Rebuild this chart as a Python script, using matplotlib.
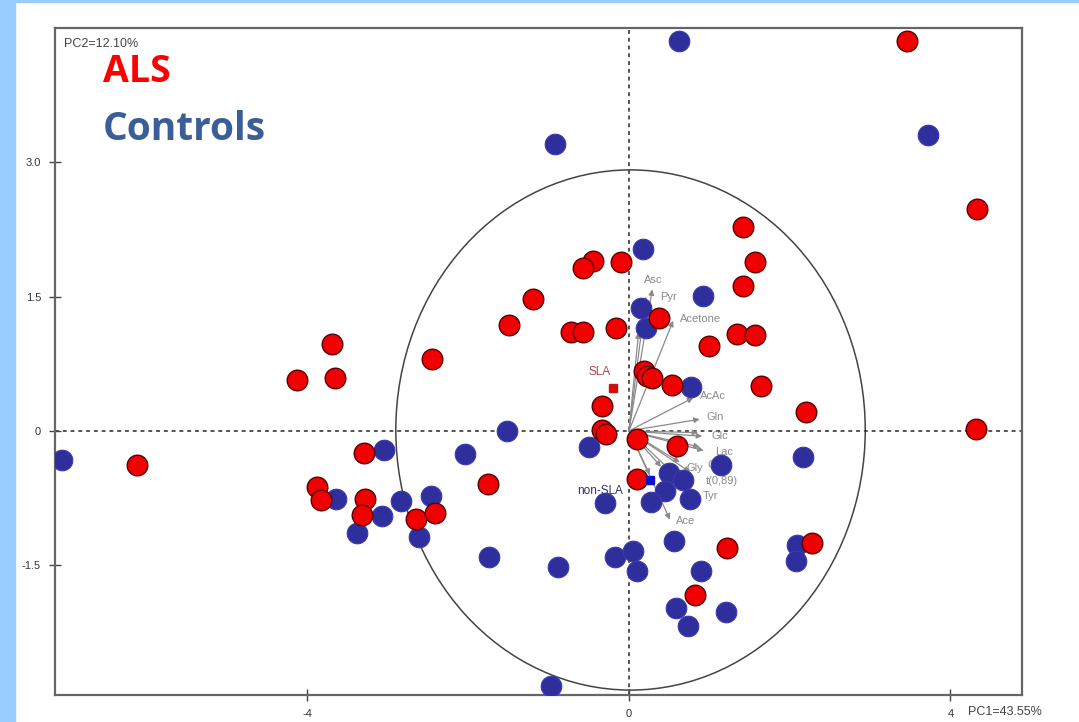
import matplotlib.pyplot as plt
from matplotlib.patches import Ellipse, Rectangle

# PCA score plot (PC1 vs PC2), ALS vs controls
als_x = [3.46, 4.33, 4.32, 1.42, 1.57, 1.42, 1.34, 1.57, 1.00, 1.64, 2.20, 0.37,
         -0.10, -0.45, -0.57, -1.19, -1.49, -0.72, -0.57, -0.16, 0.19, 0.22, 0.29, 0.53,
         -0.34, -0.34, -0.29, 0.10, 0.60, 0.10, -2.45, -3.69, -3.66, -4.13, -6.12, -3.30,
         -3.88, -3.83, -3.28, -3.32, -2.65, -2.41, -1.75, 1.22, 2.28, 0.82]
als_y = [4.35, 2.48, 0.02, 2.28, 1.89, 1.62, 1.08, 1.07, 0.95, 0.50, 0.21, 1.26,
         1.89, 1.90, 1.82, 1.47, 1.18, 1.11, 1.11, 1.15, 0.67, 0.61, 0.59, 0.51,
         0.28, 0.01, -0.04, -0.09, -0.17, -0.54, 0.80, 0.97, 0.59, 0.57, -0.38, -0.25,
         -0.63, -0.77, -0.76, -0.94, -0.98, -0.92, -0.59, -1.31, -1.25, -1.83]

ctrl_x = [0.62, 3.72, -0.92, 0.17, 0.92, 0.15, 0.21, 0.77, -1.52, -0.50, -2.04, -3.05,
          -7.05, 2.16, 1.14, 0.50, 0.67, 0.45, 0.76, 0.27, -0.30, -3.64, -2.84, -2.46,
          -3.07, -3.38, -2.61, 0.56, 2.09, 2.08, -1.74, -0.88, -0.17, 0.05, 0.10, 0.90,
          0.58, 0.73, 1.21, -0.97]
ctrl_y = [4.35, 3.30, 3.20, 2.03, 1.51, 1.37, 1.15, 0.49, 0.00, -0.18, -0.26, -0.21,
          -0.32, -0.29, -0.38, -0.47, -0.55, -0.67, -0.76, -0.79, -0.80, -0.76, -0.78, -0.73,
          -0.95, -1.14, -1.18, -1.23, -1.28, -1.45, -1.41, -1.52, -1.41, -1.34, -1.56, -1.56,
          -1.98, -2.18, -2.02, -2.85]

# loadings (arrow tips) and their labels
load_names = ['Asc', 'Pyr', 'Acetone', 'AcAc', 'Gln', 'Glc', '', 'Lac', 'Cr', 'Gly',
              't(0,89)', 'Tyr', 'Ace', '', '', '']
load_x = [0.29, 0.21, 0.55, 0.80, 0.88, 0.91, 0.86, 0.93, 0.88, 0.63, 0.76, 0.71, 0.51,
          0.26, 0.12, 0.40]
load_y = [1.58, 1.50, 1.23, 0.37, 0.13, -0.06, -0.02, -0.22, -0.18, -0.35, -0.46, -0.61,
          -0.99, -0.49, 1.10, -0.40]
label_dx = [-0.10, 0.18, 0.08, 0.08, 0.08, 0.12, 0, 0.14, 0.10, 0.08, 0.20, 0.21, 0.08,
            0, 0, 0]
label_dy = [0.10, 0.0, 0.02, 0.02, 0.02, 0.0, 0, -0.02, -0.20, -0.06, -0.10, -0.12, -0.02,
            0, 0, 0]

sla_xy = (-0.20, 0.48)
nonsla_xy = (0.26, -0.55)

fig = plt.figure(figsize=(10.79, 7.22), dpi=100)
fig.patches.append(Rectangle((0, 0), 15 / 1079, 1, transform=fig.transFigure,
                             color='#99ccff', zorder=0))
fig.patches.append(Rectangle((0, 1 - 2 / 722), 1, 2 / 722, transform=fig.transFigure,
                             color='#99ccff', zorder=0))

ax = fig.add_axes([55 / 1079, 27 / 722, 967 / 1079, 667 / 722])
ax.set_xlim(-7.14, 4.89)
ax.set_ylim(-2.95, 4.50)

ax.axhline(0, color='#555555', lw=1.4, ls=(0, (2, 2)), zorder=1)
ax.axvline(0, color='#555555', lw=1.4, ls=(0, (2, 2)), zorder=1)
ax.add_patch(Ellipse((0.02, 0.01), 5.84, 5.81, fill=False, ec='#444444', lw=1.1, zorder=1))

for name, lx, ly, dx, dy in zip(load_names, load_x, load_y, label_dx, label_dy):
    ax.annotate('', xy=(lx, ly), xytext=(0, 0),
                arrowprops=dict(arrowstyle='-|>', color='#8a8a8a', lw=0.9,
                                mutation_scale=8, shrinkA=0, shrinkB=0), zorder=2)
    if name:
        ax.text(lx + dx, ly + dy, name, fontsize=8, color='#8a8a8a',
                family='Liberation Sans', va='center', ha='left', zorder=2)

ax.plot(*sla_xy, marker='s', ms=6, color='#d01010', zorder=2)
ax.text(sla_xy[0] - 0.3, sla_xy[1] + 0.18, 'SLA', fontsize=8.5, color='#b04848',
        family='Liberation Sans', ha='left', va='center', zorder=2)
ax.plot(*nonsla_xy, marker='s', ms=6, color='#1010c8', zorder=4)
ax.text(nonsla_xy[0] - 0.9, nonsla_xy[1] - 0.12, 'non-SLA', fontsize=8.5, color='#303070',
        family='Liberation Sans', ha='left', va='center', zorder=2)

ax.scatter(ctrl_x, ctrl_y, s=220, color='#2e2e9c', edgecolors='#3a3ab0', linewidths=0.8,
           zorder=3)
ax.scatter(als_x, als_y, s=220, color='#f00000', edgecolors='#5a0000', linewidths=1.0,
           zorder=3)

ax.set_xticks([-4, 0, 4])
ax.set_yticks([-1.5, 0, 1.5, 3.0])
ax.set_xticklabels(['-4', '0', '4'])
ax.set_yticklabels(['-1.5', '0', '1.5', '3.0'])
ax.tick_params(direction='inout', length=8, width=1, color='#444444', labelsize=8,
               labelcolor='#333333', pad=6)
for lbl in ax.get_xticklabels() + ax.get_yticklabels():
    lbl.set_family('Liberation Sans')
for sp in ax.spines.values():
    sp.set_color('#666666')
    sp.set_linewidth(1.6)

ax.text(0.009, 0.985, 'PC2=12.10%', transform=ax.transAxes, fontsize=9, color='#444444',
        family='Liberation Sans', ha='left', va='top')
fig.text(968 / 1079, 1 - 712 / 722, 'PC1=43.55%', fontsize=9, color='#444444',
         family='Liberation Sans', ha='left', va='center')

fig.text(103 / 1079, 1 - 72 / 722, 'ALS', fontsize=27, color='#ff0000',
         family='Open Sans', weight='bold', ha='left', va='center')
fig.text(103 / 1079, 1 - 130 / 722, 'Controls', fontsize=28, color='#3a5f98',
         family='Open Sans', weight='bold', ha='left', va='center')

fig.savefig('out.png', dpi=100)
